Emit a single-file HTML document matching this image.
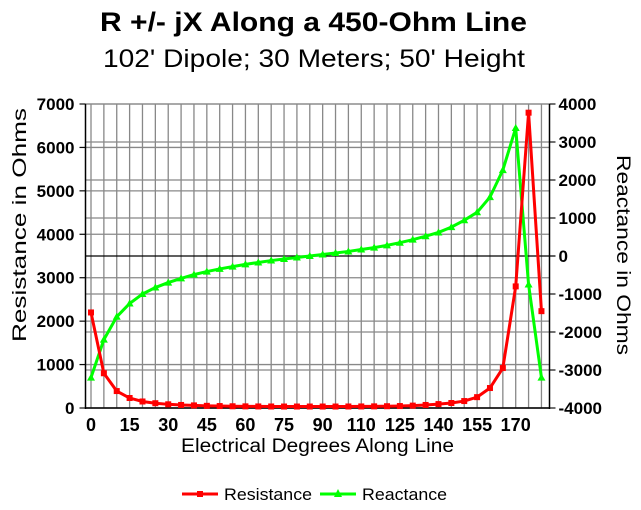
<!DOCTYPE html>
<html><head><meta charset="utf-8"><style>
html,body{margin:0;padding:0;background:#fff;}
svg{display:block;font-family:"Liberation Sans",Arial,sans-serif;}
</style></head><body>
<svg id="s" width="641" height="510" viewBox="0 0 641 510" xmlns="http://www.w3.org/2000/svg">
<text x="100" y="31" font-size="27" font-weight="bold" textLength="427" lengthAdjust="spacingAndGlyphs">R +/- jX Along a 450-Ohm Line</text>
<text x="103" y="67" font-size="25" textLength="422" lengthAdjust="spacingAndGlyphs">102' Dipole; 30 Meters; 50' Height</text>
<g id="grid"></g>
<g id="series"></g>
<text transform="translate(26,225) rotate(-90)" text-anchor="middle" font-size="19" textLength="234" lengthAdjust="spacingAndGlyphs">Resistance in Ohms</text>
<text transform="translate(617,255) rotate(90)" text-anchor="middle" font-size="19" textLength="200" lengthAdjust="spacingAndGlyphs">Reactance in Ohms</text>
<text x="181" y="452" font-size="19" textLength="273" lengthAdjust="spacingAndGlyphs">Electrical Degrees Along Line</text>
<line x1="182" y1="494" x2="218" y2="494" stroke="#f00" stroke-width="3"/>
<rect x="197" y="491" width="6" height="6" fill="#f00"/>
<text x="224" y="500" font-size="17" textLength="88" lengthAdjust="spacingAndGlyphs">Resistance</text>
<line x1="320" y1="494" x2="356" y2="494" stroke="#0f0" stroke-width="3"/>
<polygon points="338,489 334,497 342,497" fill="#0f0"/>
<text x="362" y="500" font-size="17" textLength="85" lengthAdjust="spacingAndGlyphs">Reactance</text>
</svg>
<script>
var NS="http://www.w3.org/2000/svg";
function el(p,t,a,txt){var e=document.createElementNS(NS,t);for(var k in a)e.setAttribute(k,a[k]);if(txt!=null)e.textContent=txt;p.appendChild(e);return e;}
var g=document.getElementById('grid'),s=document.getElementById('series');
var L=85.5,R=549.5,T=104,B=408,x0=91,dx=12.87;
var gray="#888";
for(var i=0;i<36;i++){var x=x0+i*dx;el(g,'line',{x1:x,y1:T,x2:x,y2:B,stroke:gray,'stroke-width':1.3});}
for(var v=0;v<=7000;v+=1000){var y=B-v*304/7000;el(g,'line',{x1:L-6,y1:y,x2:R,y2:y,stroke:gray,'stroke-width':1.3});el(g,'line',{x1:L-6,y1:y,x2:L,y2:y,stroke:'#000'});
el(g,'text',{x:L-11,y:y+6,'text-anchor':'end','font-size':17,'font-weight':'bold'},v);}
for(var v=-4000;v<=4000;v+=1000){var y=256-v*0.038;el(g,'line',{x1:L,y1:y,x2:R+6,y2:y,stroke:v==0?'#000':gray,'stroke-width':v==0?1.2:1.3});el(g,'line',{x1:R,y1:y,x2:R+6,y2:y,stroke:'#000'});
el(g,'text',{x:R+9,y:y+6,'font-size':17,'font-weight':'bold'},v);}
el(g,'line',{x1:L,y1:T,x2:L,y2:B+1,stroke:'#000','stroke-width':1.5});
el(g,'line',{x1:R,y1:T,x2:R,y2:B+1,stroke:'#000','stroke-width':1.5});
el(g,'line',{x1:L,y1:B,x2:R,y2:B,stroke:'#000','stroke-width':1.5});
var labs=[0,15,30,45,60,75,90,110,125,140,155,170];
labs.forEach(function(l,i){el(g,'text',{x:x0+i*3*dx,y:B+23,'text-anchor':'middle','font-size':18,'font-weight':'bold'},l);});
var red=[2200,800,390,230,150,110,85,70,60,50,45,40,38,36,35,34,34,34,34,34,35,36,38,41,45,55,70,90,115,160,250,460,920,2800,6800,2230];
var grn=[-3200,-2200,-1600,-1250,-1000,-830,-700,-590,-490,-410,-340,-280,-220,-170,-120,-80,-40,0,40,80,120,170,220,280,350,430,520,620,760,940,1150,1550,2260,3370,-750,-3200];
var pr=[],pg=[];
for(var i=0;i<36;i++){var x=x0+i*dx;pr.push([x,B-red[i]*304/7000]);pg.push([x,256-grn[i]*0.038]);}
el(s,'polyline',{points:pg.map(function(p){return p.join(',')}).join(' '),fill:'none',stroke:'#0f0','stroke-width':3});
pg.forEach(function(p){el(s,'polygon',{points:(p[0])+','+(p[1]-4)+' '+(p[0]-4)+','+(p[1]+3)+' '+(p[0]+4)+','+(p[1]+3),fill:'#0f0'});});
el(s,'polyline',{points:pr.map(function(p){return p.join(',')}).join(' '),fill:'none',stroke:'#f00','stroke-width':3});
pr.forEach(function(p){el(s,'rect',{x:p[0]-3,y:p[1]-3,width:6,height:6,fill:'#f00'});});
</script>
</body></html>
